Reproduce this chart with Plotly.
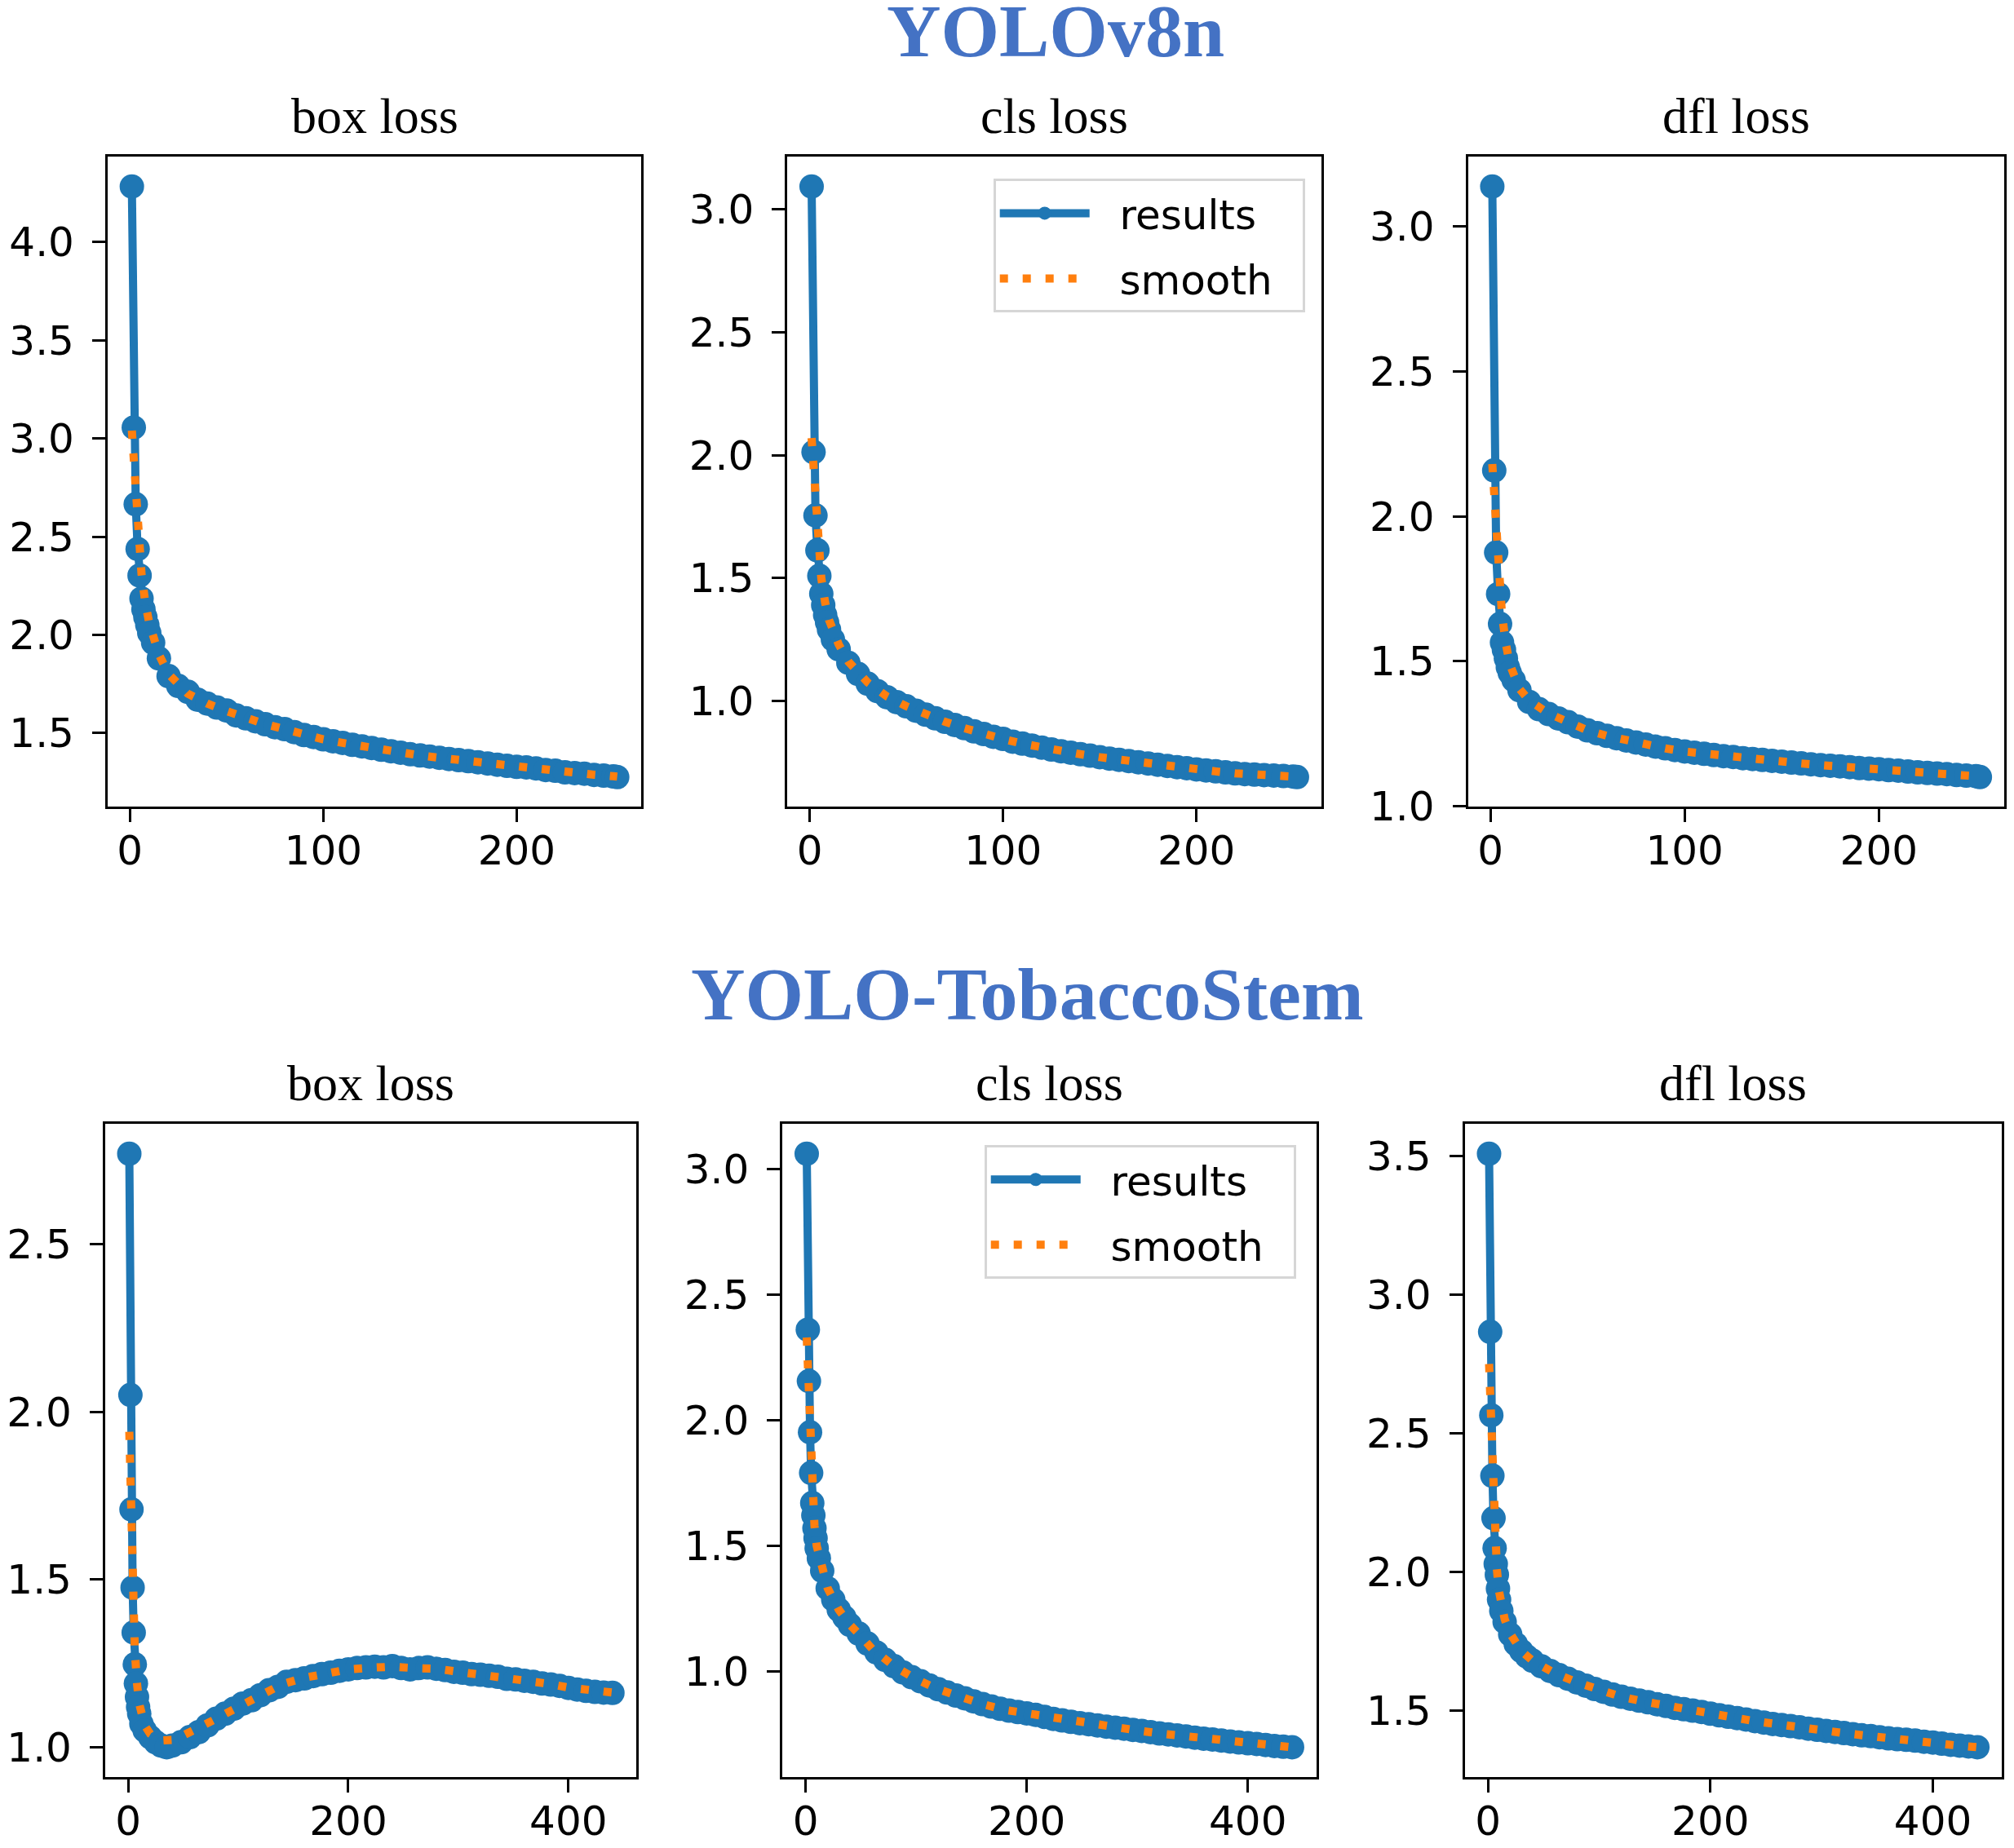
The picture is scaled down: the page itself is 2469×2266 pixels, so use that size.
import plotly.graph_objects as go

# epochs (x) for the plotted samples
EP_V8 = list(range(1, 11)) + [12, 15] + list(range(20, 251, 5)) + [252]
EP_TS = list(range(1, 11)) + [12, 15, 20, 25, 30, 35, 40] + list(range(48, 441, 8))
SM_V8 = [1, 2, 3, 4, 5, 6, 8, 10, 15, 20] + list(range(30, 251, 10)) + [252]
SM_TS = [1, 2, 3, 4, 5, 6, 8, 10, 15, 20, 30, 40, 50, 60] + list(range(80, 441, 20))

# YOLOv8n losses
v8_box = [4.283, 3.056, 2.665, 2.437, 2.302, 2.185, 2.13, 2.09, 2.05, 2.01,
          1.96, 1.88,
          1.79, 1.74, 1.71, 1.67, 1.65, 1.63, 1.615, 1.59, 1.575, 1.56,
          1.545, 1.53, 1.52, 1.505, 1.49, 1.48, 1.468, 1.458, 1.45, 1.44,
          1.432, 1.424, 1.415, 1.407, 1.40, 1.392, 1.386, 1.38, 1.374, 1.368,
          1.362, 1.357, 1.351, 1.345, 1.339, 1.333, 1.328, 1.325, 1.32, 1.312,
          1.308, 1.30, 1.296, 1.293, 1.287, 1.283, 1.279,
          1.276]
v8_cls = [3.094, 2.013, 1.755, 1.613, 1.509, 1.436, 1.39, 1.35, 1.32, 1.29,
          1.25, 1.21,
          1.155, 1.11, 1.07, 1.04, 1.015, 0.995, 0.978, 0.96, 0.944, 0.929,
          0.915, 0.902, 0.889, 0.876, 0.865, 0.854, 0.845, 0.834, 0.826, 0.818,
          0.81, 0.802, 0.795, 0.789, 0.783, 0.777, 0.771, 0.765, 0.76, 0.755,
          0.75, 0.745, 0.74, 0.735, 0.73, 0.726, 0.721, 0.717, 0.713, 0.709,
          0.705, 0.702, 0.70, 0.698, 0.696, 0.694, 0.692,
          0.69]
v8_dfl = [3.137, 2.158, 1.875, 1.732, 1.629, 1.565, 1.54, 1.51, 1.48, 1.46,
          1.435, 1.40,
          1.36, 1.335, 1.318, 1.303, 1.29, 1.275, 1.262, 1.252, 1.243, 1.235,
          1.227, 1.22, 1.213, 1.206, 1.20, 1.194, 1.189, 1.185, 1.181, 1.177,
          1.173, 1.17, 1.166, 1.163, 1.16, 1.157, 1.154, 1.151, 1.148, 1.145,
          1.142, 1.14, 1.138, 1.135, 1.132, 1.13, 1.128, 1.125, 1.123, 1.12,
          1.117, 1.115, 1.113, 1.111, 1.108, 1.106, 1.104,
          1.101]
v8_box_s = [3.04, 2.88, 2.72, 2.55, 2.42, 2.31, 2.16, 2.06, 1.90, 1.80,
            1.70, 1.65, 1.612, 1.575, 1.545, 1.52, 1.49, 1.468, 1.45, 1.432,
            1.415, 1.40, 1.386, 1.374, 1.362, 1.351, 1.339, 1.329, 1.32, 1.308,
            1.297, 1.288, 1.28, 1.278]
v8_cls_s = [2.07, 1.95, 1.80, 1.68, 1.58, 1.50, 1.40, 1.33, 1.23, 1.16,
            1.075, 1.018, 0.978, 0.944, 0.915, 0.889, 0.865, 0.845, 0.826, 0.81,
            0.795, 0.783, 0.771, 0.76, 0.75, 0.74, 0.73, 0.721, 0.713, 0.705,
            0.70, 0.696, 0.692, 0.691]
v8_dfl_s = [2.18, 2.08, 1.95, 1.83, 1.73, 1.66, 1.56, 1.49, 1.405, 1.365,
            1.32, 1.29, 1.262, 1.243, 1.227, 1.213, 1.20, 1.189, 1.181, 1.173,
            1.166, 1.16, 1.154, 1.148, 1.142, 1.138, 1.132, 1.128, 1.123, 1.117,
            1.113, 1.108, 1.104, 1.102]

# YOLO-TobaccoStem losses
ts_box = [2.769, 2.050, 1.709, 1.476, 1.342, 1.247, 1.19, 1.15, 1.12, 1.10,
          1.07, 1.05, 1.03, 1.015, 1.005, 1.0, 1.005,
          1.015, 1.03, 1.045, 1.065, 1.085, 1.10, 1.115, 1.13, 1.14, 1.155,
          1.17, 1.18, 1.195, 1.20, 1.205, 1.212, 1.218, 1.222, 1.228, 1.232,
          1.236, 1.238, 1.24, 1.238, 1.242, 1.236, 1.232, 1.236, 1.238, 1.234,
          1.23, 1.225, 1.222, 1.218, 1.216, 1.213, 1.21, 1.204, 1.202, 1.198,
          1.195, 1.19, 1.187, 1.183, 1.177, 1.172, 1.168, 1.165, 1.163, 1.162]
ts_cls = [3.062, 2.361, 2.156, 1.952, 1.79, 1.67, 1.621, 1.57, 1.53, 1.49,
          1.45, 1.40, 1.33, 1.285, 1.245, 1.215, 1.185,
          1.15, 1.11, 1.075, 1.045, 1.02, 0.995, 0.976, 0.96, 0.943, 0.928,
          0.915, 0.903, 0.892, 0.88, 0.869, 0.859, 0.85, 0.843, 0.837, 0.832,
          0.826, 0.818, 0.81, 0.804, 0.798, 0.793, 0.789, 0.784, 0.779, 0.775,
          0.771, 0.766, 0.762, 0.757, 0.752, 0.748, 0.744, 0.74, 0.735, 0.731,
          0.728, 0.724, 0.72, 0.716, 0.713, 0.71, 0.706, 0.702, 0.699, 0.697]
ts_dfl = [3.508, 2.866, 2.565, 2.347, 2.194, 2.086, 2.029, 1.99, 1.94, 1.90,
          1.86, 1.82, 1.775, 1.74, 1.715, 1.695, 1.68,
          1.66, 1.643, 1.628, 1.615, 1.602, 1.59, 1.578, 1.568, 1.558, 1.55,
          1.543, 1.536, 1.53, 1.523, 1.517, 1.51, 1.505, 1.50, 1.495, 1.489,
          1.483, 1.478, 1.473, 1.468, 1.462, 1.457, 1.452, 1.448, 1.444, 1.44,
          1.435, 1.431, 1.427, 1.423, 1.419, 1.415, 1.411, 1.408, 1.404, 1.40,
          1.397, 1.395, 1.392, 1.388, 1.385, 1.381, 1.377, 1.374, 1.371, 1.368]
ts_box_s = [1.94, 1.80, 1.62, 1.48, 1.37, 1.29, 1.19, 1.13, 1.065, 1.04,
            1.02, 1.022, 1.035, 1.05,
            1.085, 1.12, 1.155, 1.188, 1.207, 1.22, 1.232, 1.237, 1.24, 1.236,
            1.234, 1.225, 1.217, 1.208, 1.198, 1.19, 1.178, 1.168, 1.163]
ts_cls_s = [2.33, 2.22, 2.07, 1.92, 1.80, 1.70, 1.58, 1.50, 1.40, 1.33,
            1.245, 1.185, 1.14, 1.09,
            1.02, 0.968, 0.928, 0.897, 0.869, 0.846, 0.832, 0.814, 0.798, 0.786,
            0.775, 0.764, 0.752, 0.742, 0.731, 0.722, 0.713, 0.704, 0.697]
ts_dfl_s = [2.75, 2.62, 2.47, 2.33, 2.21, 2.12, 2.01, 1.93, 1.83, 1.778,
            1.715, 1.68, 1.655, 1.635,
            1.602, 1.573, 1.55, 1.533, 1.517, 1.502, 1.489, 1.476, 1.462, 1.45,
            1.44, 1.429, 1.419, 1.41, 1.40, 1.393, 1.385, 1.375, 1.368]

panel_titles = ["box loss", "cls loss", "dfl loss"]
group_titles = ["YOLOv8n", "YOLO-TobaccoStem"]

W, H = 2469, 2266
BLUE = "#1f77b4"
ORANGE = "#ff7f0e"
TITLE_BLUE = "#4472c4"
TICK_FONT = dict(family="DejaVu Sans", size=50, color="black")
NB = "\u00a0"


def px(x):
    # small horizontal shift measured on earlier renders
    return (x - 6) / W


def py(y):
    # small vertical correction measured on earlier renders
    return 1 - ((y - 5.2) / 0.989) / H


# panel boxes in pixels of the target picture: (left, right, top, bottom)
boxes = [
    (128, 783, 190, 988), (962, 1617, 190, 988), (1797, 2455, 190, 988),
    (125, 777, 1378, 2180), (956, 1611, 1378, 2180), (1793, 2452, 1378, 2180),
]

panels = [
    (EP_V8, v8_box, SM_V8, v8_box_s, [0, 100, 200]),
    (EP_V8, v8_cls, SM_V8, v8_cls_s, [0, 100, 200]),
    (EP_V8, v8_dfl, SM_V8, v8_dfl_s, [0, 100, 200]),
    (EP_TS, ts_box, SM_TS, ts_box_s, [0, 200, 400]),
    (EP_TS, ts_cls, SM_TS, ts_cls_s, [0, 200, 400]),
    (EP_TS, ts_dfl, SM_TS, ts_dfl_s, [0, 200, 400]),
]


def padded(vals):
    lo, hi = min(vals), max(vals)
    d = hi - lo
    return [lo - 0.05 * d, hi + 0.05 * d]


fig = go.Figure()
layout = {}
annotations = []

for i, (ep, res, sep, smo, xt) in enumerate(panels):
    n = i + 1
    xa = "x" if n == 1 else f"x{n}"
    ya = "y" if n == 1 else f"y{n}"
    legend_name = {2: "legend", 5: "legend2"}.get(n)
    show = legend_name is not None

    fig.add_trace(go.Scatter(
        x=ep, y=res, mode="lines+markers", name=NB * 2 + "results" + NB * 2,
        line=dict(color=BLUE, width=10), marker=dict(color=BLUE, size=30),
        xaxis=xa, yaxis=ya, showlegend=show, legend=legend_name or "legend",
        legendgroup=f"r{n}",
    ))
    fig.add_trace(go.Scatter(
        x=sep, y=smo, mode="lines", name=NB * 2 + "smooth" + NB * 2,
        line=dict(color=ORANGE, width=10, dash="10px,18px"),
        xaxis=xa, yaxis=ya, showlegend=show, legend=legend_name or "legend",
        legendgroup=f"s{n}",
    ))

    l, r, t, b = boxes[i]
    common = dict(
        showline=True, linewidth=3, linecolor="black", mirror=True,
        ticks="outside", ticklen=16, tickwidth=3, tickcolor="black",
        showgrid=False, zeroline=False, tickfont=TICK_FONT,
    )
    layout["xaxis" if n == 1 else f"xaxis{n}"] = dict(
        domain=[px(l), px(r)], anchor=ya, range=padded(ep),
        tickvals=xt, ticktext=[str(v) for v in xt], ticklabelstandoff=-8,
        **common,
    )
    ylo, yhi = padded(res)
    yt = [v / 2 for v in range(0, 10) if ylo <= v / 2 <= yhi]
    layout["yaxis" if n == 1 else f"yaxis{n}"] = dict(
        domain=[py(b), py(t)], anchor=xa, range=[ylo, yhi],
        tickvals=yt, ticktext=[f"{v:.1f}" for v in yt], ticklabelstandoff=12,
        **common,
    )
    annotations.append(dict(
        text=panel_titles[i % 3], xref="paper", yref="paper",
        x=px((l + r) / 2), y=py(t - 14), xanchor="center", yanchor="bottom",
        showarrow=False, font=dict(family="Liberation Serif", size=62, color="black"),
    ))

annotations.append(dict(
    text="<b>" + group_titles[0] + "</b>", xref="paper", yref="paper",
    x=px(1291), y=py(88), xanchor="center", yanchor="bottom", showarrow=False,
    font=dict(family="Liberation Serif", size=92, color=TITLE_BLUE),
))
annotations.append(dict(
    text="<b>" + group_titles[1] + "</b>", xref="paper", yref="paper",
    x=px(1257), y=py(1272), xanchor="center", yanchor="bottom", showarrow=False,
    font=dict(family="Liberation Serif", size=92, color=TITLE_BLUE),
))

legend_style = dict(
    font=dict(family="DejaVu Sans", size=50, color="black"),
    bgcolor="white", bordercolor="#d6d6d6", borderwidth=3,
    xanchor="right", yanchor="top", itemwidth=110, tracegroupgap=12,
)

fig.update_layout(
    width=W, height=H, margin=dict(l=0, r=0, t=0, b=0),
    paper_bgcolor="white", plot_bgcolor="white",
    annotations=annotations,
    legend=dict(x=px(1597), y=py(217), **legend_style),
    legend2=dict(x=px(1586), y=py(1404), **legend_style),
    **layout,
)

fig.write_html("out.html")
